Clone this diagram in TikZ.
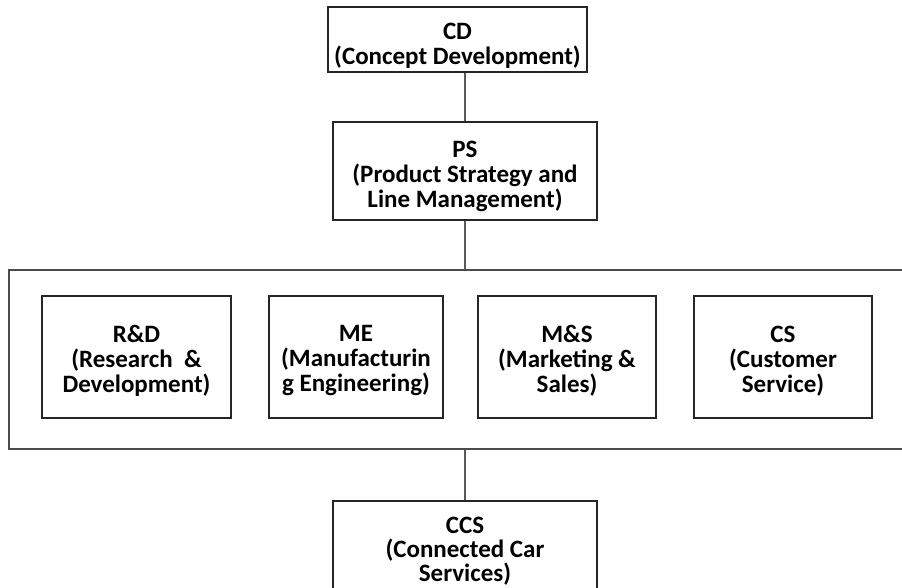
\documentclass[tikz,border=0pt]{standalone}
\usepackage{fontspec}
\setmainfont{Carlito}
\begin{document}
\begin{tikzpicture}[x=1pt,y=-1pt,
  box/.style={draw=black!85,line width=1.2pt,inner sep=0pt},
  txt/.style={inner sep=0pt,align=center,font=\bfseries\fontsize{25}{25}\selectfont},
  conn/.style={draw=black!65,line width=1.2pt}]
\clip (0,0) rectangle (902,587);
\useasboundingbox (0,0) rectangle (902,587);
\fill[white] (0,0) rectangle (902,587);
\node[box,minimum width=259pt,minimum height=65pt] (CD) at (457.5,39.5) {};
\node[txt] (CDt) at ([yshift=-6pt]CD.center) {CD\\(Concept Development)};
\node[box,minimum width=264pt,minimum height=98pt] (PS) at (465,171) {};
\node[txt] (PSt) at ([yshift=-5pt]PS.center) {PS\\(Product Strategy and\\Line Management)};
\node[draw=black!70,line width=1.2pt,inner sep=0pt,minimum width=910pt,minimum height=179pt] (outer) at (464,359.5) {};
\node[box,minimum width=189pt,minimum height=122pt] (RD) at (136.5,357) {};
\node[txt] (RDt) at ([yshift=-4pt]RD.center) {R\&D\\(Research~ \&\\Development)};
\node[box,minimum width=174pt,minimum height=122pt] (ME) at (356,357) {};
\node[txt] (MEt) at ([yshift=-4pt]ME.center) {ME\\(Manufacturin\\g Engineering)};
\node[box,minimum width=178pt,minimum height=122pt] (MS) at (567,357) {};
\node[txt] (MSt) at ([yshift=-4pt]MS.center) {M\&S\\(Marketing \&\\Sales)};
\node[box,minimum width=178pt,minimum height=122pt] (CS) at (783,357) {};
\node[txt] (CSt) at ([yshift=-4pt]CS.center) {CS\\(Customer\\Service)};
\node[box,minimum width=264pt,minimum height=98pt] (CCS) at (465,550) {};
\node[txt,font=\bfseries\fontsize{25}{24}\selectfont] (CCSt) at ([yshift=-1pt]CCS.center) {CCS\\(Connected Car\\Services)};
\draw[conn] (PS.north |- CD.south) -- (PS.north);
\draw[conn] (PS.south) -- (PS.south |- outer.north);
\draw[conn] (CCS.north |- outer.south) -- (CCS.north);
\end{tikzpicture}
\end{document}
